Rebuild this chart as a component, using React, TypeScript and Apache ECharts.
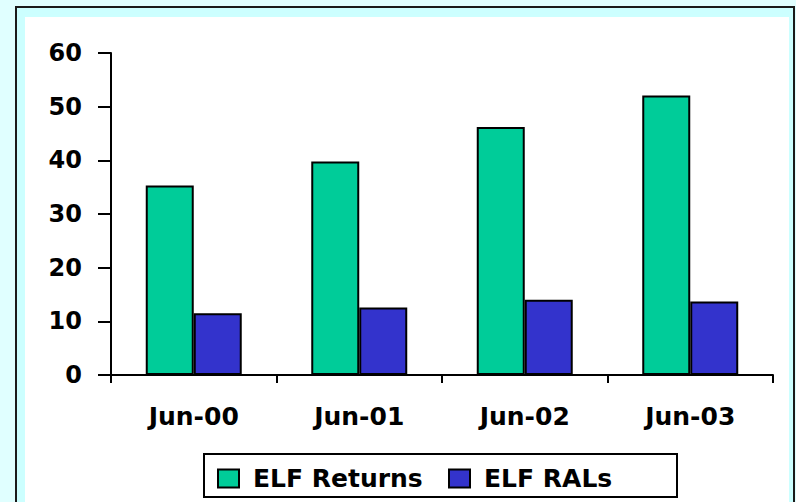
import React, { useEffect, useRef } from "react";
import * as echarts from "echarts";

const categories = ["Jun-00", "Jun-01", "Jun-02", "Jun-03"];
const elfReturns = [35.3, 39.8, 46.2, 52.1];
const elfRALs = [11.5, 12.6, 14.0, 13.7];
const seriesNames = ["ELF Returns", "ELF RALs"];

const FONT = "'DejaVu Sans', Arial, sans-serif";

export default function App() {
  const ref = useRef<HTMLDivElement>(null);
  useEffect(() => {
    if (!ref.current) return;
    const chart = echarts.init(ref.current, null, { renderer: "svg" });
    chart.setOption({
      animation: false,
      backgroundColor: "#e0ffff",
      graphic: [
        {
          type: "rect",
          z: -10,
          silent: true,
          shape: { x: 16, y: 7, width: 778, height: 520 },
          style: { fill: "#ccffff", stroke: "#1a1a1a", lineWidth: 2 },
        },
        {
          type: "rect",
          z: -9,
          silent: true,
          shape: { x: 25, y: 17, width: 764, height: 520 },
          style: { fill: "#ffffff" },
        },
        {
          type: "rect",
          z: -8,
          silent: true,
          shape: { x: 204, y: 454, width: 473, height: 43 },
          style: { fill: "#ffffff", stroke: "#000000", lineWidth: 2 },
        },
      ],
      grid: { left: 111, right: 23, top: 53, bottom: 127, containLabel: false },
      legend: {
        left: 217,
        top: 466,
        padding: 0,
        itemGap: 10,
        itemWidth: 21,
        itemHeight: 18,
        icon: "rect",
        itemStyle: { borderColor: "#000", borderWidth: 2 },
        textStyle: {
          fontFamily: FONT,
          fontWeight: "bold",
          fontSize: 25,
          color: "#000",
          lineHeight: 25,
        },
        data: [
          { name: seriesNames[0], textStyle: { width: 185, padding: [0, 0, 0, 9] } },
          { name: seriesNames[1], textStyle: { width: 180, padding: [0, 0, 0, 9] } },
        ],
      },
      xAxis: {
        type: "category",
        data: categories,
        boundaryGap: true,
        axisLine: { lineStyle: { color: "#000", width: 2 } },
        axisTick: { show: true, inside: false, length: 8, alignWithLabel: false, lineStyle: { color: "#000", width: 2 } },
        axisLabel: {
          margin: 29,
          fontFamily: FONT,
          fontWeight: "bold",
          fontSize: 25,
          color: "#000",
        },
        splitLine: { show: false },
      },
      yAxis: {
        type: "value",
        min: 0,
        max: 60,
        interval: 10,
        axisLine: { show: true, lineStyle: { color: "#000", width: 2 } },
        axisTick: { show: true, inside: false, length: 13, lineStyle: { color: "#000", width: 2 } },
        axisLabel: {
          margin: 29,
          fontFamily: FONT,
          fontWeight: "bold",
          fontSize: 24,
          color: "#000",
        },
        splitLine: { show: false },
      },
      series: [
        {
          name: seriesNames[0],
          type: "bar",
          data: elfReturns,
          barGap: "0%",
          barCategoryGap: "42%",
          itemStyle: { color: "#00cc99", borderColor: "#000", borderWidth: 2 },
        },
        {
          name: seriesNames[1],
          type: "bar",
          data: elfRALs,
          barGap: "0%",
          barCategoryGap: "42%",
          itemStyle: { color: "#3333cc", borderColor: "#000", borderWidth: 2 },
        },
      ],
    });
    return () => chart.dispose();
  }, []);
  return (
    <div
      ref={ref}
      style={{ position: "fixed", left: 0, top: 0, width: 796, height: 502 }}
    />
  );
}
